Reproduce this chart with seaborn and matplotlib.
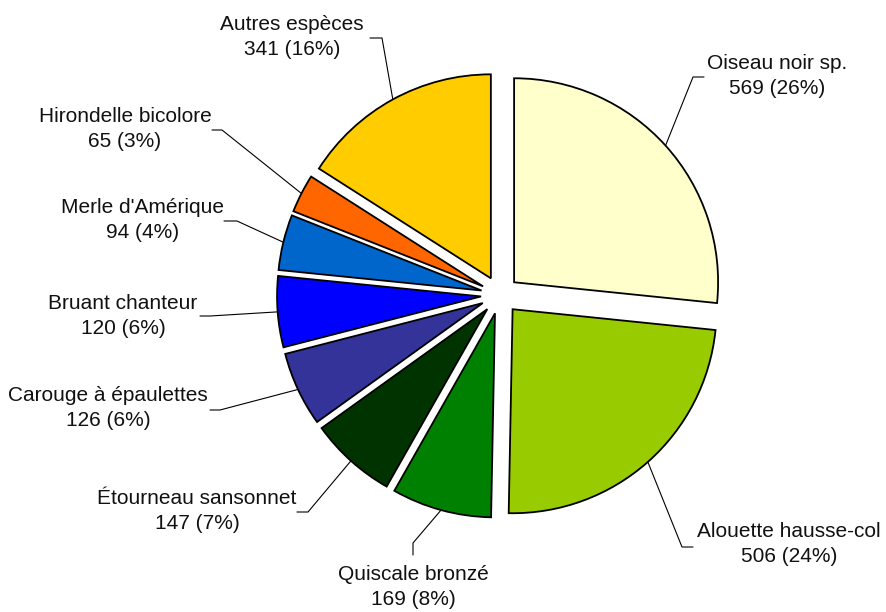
import matplotlib
matplotlib.use("Agg")
import matplotlib.pyplot as plt
import seaborn as sns
import numpy as np

# Données
especes = ["Oiseau noir sp.", "Alouette hausse-col", "Quiscale bronzé",
           "Étourneau sansonnet", "Carouge à épaulettes", "Bruant chanteur",
           "Merle d'Amérique", "Hirondelle bicolore", "Autres espèces"]
effectifs = [569, 506, 169, 147, 126, 120, 94, 65, 341]
pourcentages = [26, 24, 8, 7, 6, 6, 4, 3, 16]
couleurs = ["#FFFFCC", "#99CC00", "#008000", "#003300", "#333399",
            "#0000FF", "#0066CC", "#FF6600", "#FFCC00"]

# Mise en page des étiquettes (pixels, origine en haut à gauche)
pos_texte = [(777, 76), (789, 544), (413, 587), (197, 511), (108, 408),
             (123, 316), (143, 220), (125, 129), (292, 37)]
coudes = [(693, 77), (682, 547), (413, 543), (308, 512), (220, 410),
          (210, 316), (237, 221), (222, 130), (382, 38)]
bouts = [(704, 77), (693, 547), (413, 555), (297, 512), (210, 410),
         (200, 316), (224, 221), (212, 130), (370, 38)]

sns.set_theme(style="white")
plt.rcParams['font.family'] = ['Liberation Sans', 'DejaVu Sans']

fig = plt.figure(figsize=(8.87, 6.12), dpi=100)
ax = fig.add_axes([0, 0, 1, 1])

# axe y inversé : sens anti-horaire en données = sens horaire à l'écran
wedges, _ = ax.pie(effectifs, colors=sns.color_palette(couleurs),
                   startangle=-90, counterclock=True,
                   explode=[19] * len(effectifs), radius=204, center=(500, 295),
                   frame=True,
                   wedgeprops=dict(edgecolor='black', linewidth=1.3))

for w, nom, n, p, t, c, b in zip(wedges, especes, effectifs, pourcentages,
                                 pos_texte, coudes, bouts):
    th = np.deg2rad((w.theta1 + w.theta2) / 2)
    x0 = w.center[0] + w.r * np.cos(th)
    y0 = w.center[1] + w.r * np.sin(th)
    ax.plot([x0, c[0], b[0]], [y0, c[1], b[1]], color='black', lw=0.8)
    ax.text(t[0], t[1], f"{nom}\n{n} ({p}%)", ha='center', va='center',
            fontsize=15, linespacing=1.45, color='#111111')

ax.set_xlim(0, 887)
ax.set_ylim(612, 0)
ax.axis('off')

plt.savefig('out.png', dpi=100)
